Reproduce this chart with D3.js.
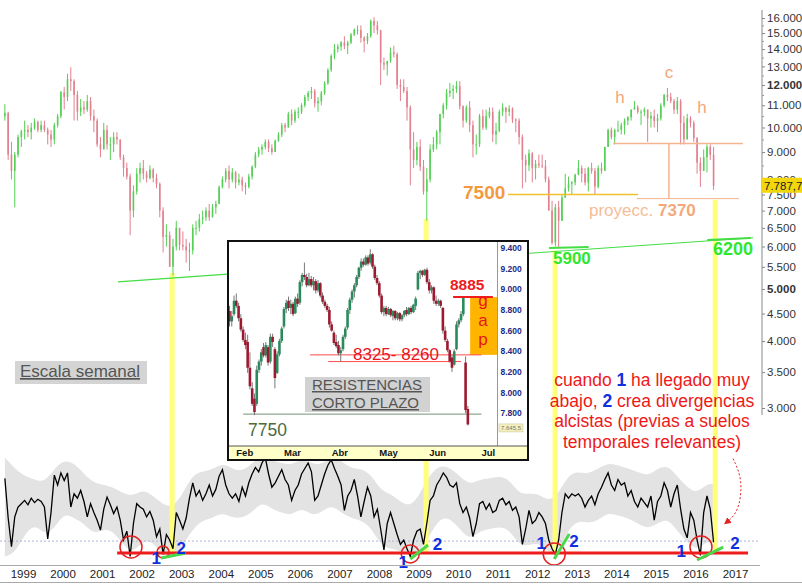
<!DOCTYPE html>
<html>
<head>
<meta charset="utf-8">
<script src="https://cdn.jsdelivr.net/npm/d3@7"></script>
<style>
  body { margin: 0; background: #fff; }
  svg { display: block; font-family: Arial, "Liberation Sans", sans-serif; }
</style>
</head>
<body>
<svg id="chart" width="802" height="584"></svg>
<script>
// ---- weekly IBEX chart (Jul 1998 .. Jun 2016)
const startYear = 1998.5;
const firstOpen = 10500;
const closeM = [
  10650, 8900, 8300, 8900, 9600, 9840,
  9900, 9800, 10000, 10250, 9900, 10100, 9900, 9700, 9500, 10100, 10500, 11640,
  11400, 12300, 12200, 11500, 10700, 10900, 10800, 11200, 10500, 10300, 9300, 9110,
  9900, 9300, 9300, 9600, 9500, 8800, 8400, 8100, 7000, 7600, 8200, 8400,
  8200, 8050, 8350, 8050, 7850, 7000, 6250, 6300, 5500, 6000, 6500, 6040,
  6000, 5900, 5900, 6500, 6500, 6750, 6800, 7000, 6800, 7100, 7200, 7740,
  8000, 8300, 8000, 8250, 7900, 8000, 7800, 7750, 8100, 8450, 8900, 9100,
  9200, 9400, 9150, 9000, 9450, 9700, 10100, 10000, 10600, 10300, 10700, 10700,
  11000, 11400, 11600, 11700, 11100, 11200, 11600, 12100, 12800, 13600, 14000, 14150,
  14400, 14200, 14400, 14900, 15200, 15200, 14700, 14500, 14800, 15800, 15500, 15180,
  13200, 13100, 13300, 13800, 13700, 12000, 11900, 11700, 10900, 9100, 8700, 9200,
  8450, 7600, 8000, 9100, 9300, 9800, 10600, 11000, 11600, 11700, 11800, 11940,
  10950, 10300, 10900, 10100, 9300, 9300, 10500, 10000, 10500, 10700, 9700, 9850,
  10700, 10900, 10700, 10850, 10350, 10300, 9600, 8700, 8500, 8950, 8400, 8560,
  8500, 8470, 8000, 7000, 6100, 7100, 6700, 7400, 7700, 7850, 7900, 8170,
  8400, 8200, 7900, 8400, 8300, 7760, 8400, 8300, 9200, 9900, 9600, 9900,
  9900, 10100, 10300, 10450, 10800, 10900, 10700, 10700, 10800, 10400, 10500, 10280,
  10400, 11000, 11500, 11400, 11200, 10800, 11200, 10200, 9500, 10400, 10200, 9550,
  8600, 8300, 8800, 9200, 8900, 7790
];
const highM = [
  11050, 10700, 9400, 9000, 9700, 9900,
  10300, 10100, 10200, 10400, 10300, 10300, 10300, 10000, 9900, 10200, 10600, 11700,
  11900, 12600, 12950, 12300, 11700, 11300, 11200, 11500, 11400, 10800, 10400, 9600,
  10200, 10100, 9600, 9800, 9800, 9500, 8900, 8600, 8200, 7800, 8400, 8600,
  8700, 8300, 8500, 8400, 8200, 7900, 7100, 6600, 6400, 6200, 6700, 6500,
  6400, 6200, 6100, 6600, 6700, 6900, 7000, 7100, 7200, 7200, 7300, 7800,
  8100, 8400, 8500, 8400, 8300, 8200, 8100, 7900, 8200, 8500, 9000, 9200,
  9300, 9500, 9500, 9300, 9500, 9800, 10200, 10200, 10700, 10800, 10800, 10900,
  11100, 11500, 11700, 11900, 11800, 11400, 11700, 12200, 12900, 13700, 14300, 14300,
  14500, 14800, 14500, 15000, 15300, 15500, 15500, 14800, 15000, 15900, 16050, 15800,
  15200, 13500, 13300, 14100, 14200, 13800, 12300, 12300, 11900, 11000, 9800, 9400,
  9500, 8700, 8400, 9300, 9600, 9900, 10600, 11100, 11800, 12100, 12000, 12200,
  12200, 11000, 11000, 11200, 10300, 9700, 10600, 10800, 10800, 10900, 10900, 10200,
  10800, 11100, 10900, 11000, 10900, 10400, 10400, 9700, 8900, 9100, 9000, 8700,
  8900, 8900, 8700, 8100, 7300, 7200, 7300, 7500, 8200, 8100, 7950, 8200,
  8700, 8500, 8400, 8450, 8600, 8400, 8500, 8600, 9200, 9950, 10000, 9950,
  10300, 10200, 10400, 10500, 10800, 11200, 11000, 10800, 10900, 10800, 10700, 10800,
  10600, 11100, 11550, 11850, 11600, 11300, 11400, 11300, 10500, 10600, 10500, 10300,
  9600, 8800, 9100, 9300, 9300, 9200
];
const lowM = [
  10300, 8700, 8000, 7100, 8800, 9200,
  9500, 9600, 9500, 9900, 9800, 9800, 9800, 9300, 9200, 9300, 10000, 10400,
  10800, 11200, 11700, 10300, 10300, 10500, 10600, 10700, 10300, 9800, 9200, 8800,
  9100, 9100, 8700, 9000, 9300, 8700, 8100, 8000, 6300, 6800, 7500, 7900,
  8000, 7900, 8000, 7900, 7700, 6800, 5850, 6000, 5500, 5300, 5900, 5900,
  5900, 5600, 5400, 5800, 6300, 6400, 6600, 6700, 6700, 6800, 6900, 7200,
  7700, 7900, 7700, 7900, 7700, 7800, 7600, 7500, 7700, 8000, 8400, 8800,
  8900, 9100, 9000, 8900, 9000, 9400, 9600, 9800, 10000, 10100, 10200, 10400,
  10600, 10900, 11200, 11300, 10900, 10700, 11000, 11500, 12000, 12700, 13400, 13800,
  13900, 14000, 13700, 14300, 14800, 14900, 14400, 13800, 14300, 14700, 15000, 14900,
  12000, 12800, 12500, 13200, 13500, 11800, 11200, 11600, 10300, 7800, 8400, 8500,
  8300, 7500, 6700, 7900, 9000, 9100, 9300, 10400, 10800, 11400, 11300, 11600,
  10800, 10000, 10200, 9800, 8800, 8900, 9200, 9900, 9900, 10400, 9400, 9300,
  9800, 10500, 10200, 10500, 10200, 9800, 9300, 7700, 7900, 8300, 7900, 8000,
  8400, 8400, 7900, 7000, 6050, 6000, 5950, 6700, 7400, 7600, 7500, 7800,
  8150, 7900, 7800, 7600, 8200, 7500, 7700, 8200, 8300, 9200, 9500, 9300,
  9800, 9700, 9700, 10100, 10300, 10800, 10600, 10100, 10500, 9400, 10000, 10000,
  9800, 10300, 10900, 11200, 11100, 10600, 10600, 9300, 9300, 9500, 10000, 9400,
  8200, 7750, 8300, 8250, 8700, 7650
];
const lastPrice = 7787.7;

// oscillator (lower panel), monthly, 0..100
const oscM = [
  76, 40, 14, 41, 50, 53,
  56, 52, 58, 54, 57, 55, 50, 21, 45, 79, 70, 81,
  74, 81, 50, 62, 58, 65, 55, 41, 53, 45, 38, 29,
  48, 59, 52, 44, 50, 38, 20, 28, 5, 35, 53, 50,
  48, 41, 46, 38, 23, 30, 7, 25, 20, 12, 45, 38,
  30, 40, 58, 72, 60, 65, 56, 62, 70, 60, 66, 78,
  84, 70, 62, 58, 62, 55, 68, 60, 72, 80, 86, 82,
  90, 95, 80, 68, 72, 78, 84, 75, 70, 56, 65, 70,
  80, 85, 90, 82, 56, 60, 70, 80, 88, 93, 85, 78,
  70, 47, 60, 65, 75, 60, 41, 55, 68, 60, 41, 48,
  30, 11, 35, 45, 35, 25, 16, 20, 12, 5, 20, 28,
  30, 16, 35, 56, 60, 70, 75, 81, 77, 70, 68, 72,
  53, 45, 50, 40, 23, 35, 53, 55, 48, 53, 45, 47,
  56, 58, 52, 55, 47, 50, 41, 16, 30, 47, 35, 38,
  45, 41, 35, 20, 12, 7, 20, 45, 62, 58, 62, 60,
  62, 58, 50, 56, 60, 52, 62, 68, 75, 81, 70, 65,
  75, 70, 72, 60, 65, 55, 50, 58, 54, 50, 60, 38,
  55, 60, 72, 65, 50, 62, 70, 48, 30, 22, 45, 38,
  20, 6, 45, 60, 48, 18
];
// grey envelope, quarterly
const bandHi = [95, 85, 78, 75, 72, 85, 93, 90, 80, 72, 70, 68, 62, 60, 66, 60, 52, 50, 62, 80,
  82, 84, 90, 85, 82, 90, 97, 92, 90, 88, 94, 90, 88, 96, 92, 85, 85, 80, 65, 62,
  55, 50, 62, 80, 88, 86, 78, 70, 75, 76, 78, 75, 62, 62, 62, 55, 62, 80, 82, 80,
  85, 90, 88, 85, 82, 78, 85, 88, 78, 68, 62, 72, 70];
const bandLo = [5, 8, 25, 35, 25, 30, 45, 40, 35, 25, 30, 28, 15, 8, 20, 18, 6, 5, 15, 30,
  38, 40, 45, 40, 40, 45, 55, 48, 45, 42, 50, 42, 45, 52, 45, 40, 38, 32, 15, 12,
  10, 5, 10, 25, 40, 40, 30, 20, 28, 30, 32, 30, 15, 15, 18, 8, 10, 30, 38, 35,
  38, 45, 42, 40, 35, 30, 35, 40, 28, 18, 10, 20, 15];

// inset: daily candles 27 Jan .. 27 Jun 2016 [open, high, low, close]
const insetDays = [
  [8750,8800,8600,8650],[8650,8750,8600,8700],[8720,8900,8700,8850],[8850,8920,8780,8800],
  [8800,8830,8650,8680],[8680,8720,8550,8570],[8570,8600,8450,8470],[8470,8540,8380,8420],
  [8450,8520,8150,8200],[8200,8350,7990,8020],[8000,8060,7830,7850],[7900,7950,7740,7770],
  [7850,8220,7830,8180],[8180,8280,8150,8260],[8260,8380,8220,8350],[8400,8440,8300,8320],
  [8320,8450,8300,8420],[8400,8420,8220,8250],[8260,8530,8240,8500],[8500,8530,8400,8450],
  [8380,8400,8000,8100],[8150,8360,8140,8330],[8330,8480,8310,8460],[8460,8600,8440,8580],
  [8600,8790,8580,8770],[8770,8860,8730,8830],[8850,8890,8750,8780],[8780,8860,8720,8820],
  [8820,8840,8700,8720],[8730,8890,8720,8870],[8870,8920,8790,8820],[8830,9050,8810,9030],
  [9030,9120,8990,9100],[9100,9220,9050,9080],[9080,9110,8980,9000],[9000,9120,8990,9060],
  [9060,9090,8980,9000],[9000,9080,8950,9040],[9040,9060,8920,8950],[8950,9050,8930,9020],
  [9020,9030,8880,8900],[8900,8930,8820,8840],[8840,8860,8780,8800],[8800,8820,8740,8760],
  [8760,8790,8590,8620],[8620,8650,8550,8560],[8540,8560,8420,8440],[8450,8520,8390,8410],
  [8420,8460,8320,8340],[8340,8400,8260,8370],[8380,8520,8360,8500],[8500,8600,8480,8580],
  [8590,8780,8570,8760],[8760,8880,8720,8860],[8860,8960,8830,8940],[8940,9020,8880,9000],
  [9000,9100,8980,9080],[9080,9180,9060,9170],[9170,9260,9140,9230],[9230,9260,9180,9200],
  [9200,9290,9190,9270],[9270,9290,9190,9210],[9220,9350,9200,9300],[9300,9310,9160,9180],
  [9180,9200,9050,9070],[9070,9100,9000,9020],[9020,9040,8880,8900],[8900,8920,8720,8740],
  [8740,8800,8700,8780],[8780,8800,8700,8720],[8720,8790,8710,8770],[8770,8780,8690,8710],
  [8700,8760,8660,8750],[8750,8760,8660,8680],[8680,8740,8660,8730],[8730,8740,8650,8670],
  [8670,8720,8650,8710],[8710,8760,8690,8750],[8760,8790,8700,8720],[8720,8790,8710,8780],
  [8780,8800,8720,8740],[8740,8820,8730,8810],[8800,8890,8760,8870],[8960,9140,8950,9120],
  [9120,9150,9060,9140],[9140,9150,9080,9100],[9100,9160,9090,9150],[9150,9170,9010,9030],
  [9030,9060,8920,8950],[8950,9000,8920,8980],[8980,8990,8820,8850],[8850,8900,8800,8820],
  [8820,8870,8800,8850],[8850,8860,8780,8800],[8780,8790,8530,8560],[8560,8600,8450,8470],
  [8460,8480,8350,8370],[8370,8380,8250,8260],[8300,8330,8160,8200],[8230,8380,8220,8360],
  [8380,8650,8370,8620],[8620,8680,8590,8660],[8660,8750,8640,8720],[8720,8890,8700,8880],
  [8250,8310,7760,7790],[7800,7830,7640,7650]
];
const insetMonths = ["Feb", "Mar", "Abr", "May", "Jun", "Jul"];
const insetMonthIdx = [3, 24, 45, 66, 88, 111];
const insetTicks = [9400, 9200, 9000, 8800, 8600, 8400, 8200, 8000, 7800];
const insetLast = 7645.5;

const priceTicks = [3000, 3500, 4000, 4500, 5000, 5500, 6000, 6500, 7000, 7500, 8000, 9000,
  10000, 11000, 12000, 13000, 14000, 15000, 16000];
const boldTicks = [5000, 12000];
const years = d3.range(1999, 2018);

const es = d3.formatLocale({decimal: ",", thousands: ".", grouping: [3], currency: ["", ""]});
const fmt = es.format(",d");

const svg = d3.select("#chart");
const x = d3.scaleLinear().domain([1999, 2017]).range([23, 735]);
const y = d3.scaleLog().domain([3000, 16000]).range([408, 18]);
const yo = d3.scaleLinear().domain([0, 100]).range([562, 452]);
const monthT = i => startYear + (i + 0.5) / 12;

const GREEN = "#55cf55", RED = "#e2808f";

// ---- oscillator panel (behind)
svg.append("path")
  .datum(bandHi.map((h, q) => ({t: monthT(q * 3), h, l: bandLo[q]})))
  .attr("fill", "#e3e3e3")
  .attr("d", d3.area().curve(d3.curveBasis).x(d => x(d.t)).y0(d => yo(d.l)).y1(d => yo(d.h)));

svg.append("line")
  .attr("x1", 0).attr("x2", 760).attr("y1", yo(19)).attr("y2", yo(19))
  .attr("stroke", "#aab4d6").attr("stroke-dasharray", "2,2");

// yellow verticals from price lows down to the oscillator floor
const yellowMarks = [[2002.77, 5350], [2009.19, 6750], [2012.45, 5900], [2016.5, 7330]];
svg.selectAll("line.yel").data(yellowMarks).join("line")
  .attr("x1", d => x(d[0])).attr("x2", d => x(d[0]))
  .attr("y1", d => y(d[1])).attr("y2", yo(8))
  .attr("stroke", "#ffff7a").attr("stroke-width", 5);

// ---- price bars
const bars = closeM.map((c, i) => ({
  t: monthT(i), o: i ? closeM[i - 1] : firstOpen, h: highM[i], l: lowM[i], c
}));
const gP = svg.append("g");
gP.selectAll("line").data(bars).join("line")
  .attr("x1", d => x(d.t)).attr("x2", d => x(d.t))
  .attr("y1", d => y(d.h)).attr("y2", d => y(d.l))
  .attr("stroke", d => d.c >= d.o ? GREEN : RED).attr("stroke-width", 1);
gP.selectAll("rect").data(bars).join("rect")
  .attr("x", d => x(d.t) - 0.8).attr("width", 1.6)
  .attr("y", d => y(Math.max(d.o, d.c)))
  .attr("height", d => Math.max(1, Math.abs(y(d.o) - y(d.c))))
  .attr("fill", d => d.c >= d.o ? GREEN : RED);

// support line
svg.append("line")
  .attr("x1", x(2001.4)).attr("y1", y(5157)).attr("x2", x(2017.46)).attr("y2", y(6230))
  .attr("stroke", "#44dd44").attr("stroke-width", 1.2);
svg.append("line").attr("x1", x(2012.3)).attr("x2", x(2013.3)).attr("y1", y(5960)).attr("y2", y(5990))
  .attr("stroke", "#44dd44").attr("stroke-width", 2);
svg.append("line").attr("x1", x(2016.3)).attr("x2", x(2017.4)).attr("y1", y(6170)).attr("y2", y(6220))
  .attr("stroke", "#44dd44").attr("stroke-width", 2);

// 7500 line and H-C-H pattern
svg.append("line").attr("x1", x(2011.26)).attr("x2", x(2014.55)).attr("y1", y(7500)).attr("y2", y(7500))
  .attr("stroke", "#f2c12e").attr("stroke-width", 1.5);
const peach = "#f4b48e";
svg.append("line").attr("x1", x(2013.92)).attr("x2", x(2017.2)).attr("y1", y(9340)).attr("y2", y(9340))
  .attr("stroke", peach).attr("stroke-width", 1.5);
svg.append("line").attr("x1", x(2015.33)).attr("x2", x(2015.33)).attr("y1", y(9340)).attr("y2", y(7370))
  .attr("stroke", peach).attr("stroke-width", 1.5);
svg.append("line").attr("x1", x(2014.52)).attr("x2", x(2017.1)).attr("y1", y(7370)).attr("y2", y(7370))
  .attr("stroke", peach).attr("stroke-width", 1);

const txt = (t, xx, yy, size, fill, weight, anchor) => svg.append("text")
  .attr("x", xx).attr("y", yy).attr("font-size", size).attr("fill", fill)
  .attr("font-weight", weight || "normal").attr("text-anchor", anchor || "start").text(t);

txt("7500", 463, 199, 19, "#f39a40", "bold");
const pr = svg.append("text").attr("x", 589).attr("y", 216).attr("font-size", 17).attr("fill", "#f5bd98");
pr.append("tspan").text("proyecc. ");
pr.append("tspan").attr("font-weight", "bold").attr("fill", "#f2a97c").text("7370");
txt("h", 620, 103, 17, "#f2a77a", "normal", "middle");
txt("c", 669, 78, 17, "#f2a77a", "normal", "middle");
txt("h", 702, 113, 17, "#f2a77a", "normal", "middle");
txt("5900", 553, 264, 17, "#2ee82e", "bold");
txt("6200", 713, 255, 18, "#2ee82e", "bold");

// ---- right price axis
svg.append("line").attr("x1", 762).attr("x2", 762).attr("y1", 10).attr("y2", 415)
  .attr("stroke", "#c4c4c4").attr("stroke-width", 2);
const gR = svg.append("g").attr("transform", "translate(762,0)")
  .call(d3.axisRight(y).tickValues(priceTicks).tickFormat(fmt).tickSize(3).tickPadding(2));
gR.select(".domain").remove();
gR.selectAll("line").attr("stroke", "#888");
gR.selectAll("text").attr("font-size", 11.5).attr("fill", "#333")
  .attr("font-family", "Arial, 'Liberation Sans', sans-serif")
  .attr("font-weight", d => boldTicks.includes(d) ? "bold" : "normal");
svg.append("g").attr("transform", "translate(762,0)")
  .call(d3.axisRight(y).tickValues([8500, 9500, 10500, 11500, 12500, 13500, 14500, 15500]).tickFormat("").tickSize(2))
  .call(g => g.select(".domain").remove())
  .selectAll("line").attr("stroke", "#999");
svg.append("rect").attr("x", 762).attr("y", y(lastPrice) - 8).attr("width", 42).attr("height", 15)
  .attr("fill", "#f2d70c");
txt(es.format(",.1f")(lastPrice), 764, y(lastPrice) + 4, 11.5, "#222");

// ---- oscillator line and marks
svg.append("path").datum(oscM)
  .attr("fill", "none").attr("stroke", "#000").attr("stroke-width", 1.3)
  .attr("d", d3.line().x((d, i) => x(monthT(i))).y(d => yo(d)));

svg.append("line").attr("x1", x(2001.38)).attr("x2", x(2017.33)).attr("y1", yo(8.2)).attr("y2", yo(8.2))
  .attr("stroke", "#ee1c1c").attr("stroke-width", 3);

const circles = [[2001.73, 13.6, 11], [2002.54, 9, 6], [2008.79, 7.3, 9], [2012.43, 7.3, 11], [2016.14, 13.6, 11]];
svg.selectAll("circle.c").data(circles).join("circle")
  .attr("cx", d => x(d[0])).attr("cy", d => yo(d[1])).attr("r", d => d[2])
  .attr("fill", "none").attr("stroke", "#e52020").attr("stroke-width", 1.5);

const divLines = [[2002.49, 3.6, 2003.12, 8.2], [2008.79, 2.7, 2009.24, 15.5],
  [2012.43, 2.7, 2012.81, 25.5], [2016.04, 1.8, 2016.70, 13.6]];
svg.selectAll("line.dv").data(divLines).join("line")
  .attr("x1", d => x(d[0])).attr("y1", d => yo(d[1])).attr("x2", d => x(d[2])).attr("y2", d => yo(d[3]))
  .attr("stroke", "#4ad84a").attr("stroke-width", 3);

const numLabels = [["1", 2002.37, 4], ["2", 2003.0, 13], ["1", 2008.61, 0], ["2", 2009.48, 16],
  ["1", 2012.1, 17], ["2", 2012.93, 19], ["1", 2015.64, 10], ["2", 2017.0, 17]];
svg.selectAll("text.num").data(numLabels).join("text")
  .attr("x", d => x(d[1])).attr("y", d => yo(d[2]) + 6).attr("text-anchor", "middle")
  .attr("font-size", 17).attr("font-weight", "bold").attr("fill", "#1030e0").text(d => d[0]);

// year axis
svg.append("line").attr("x1", 0).attr("x2", 760).attr("y1", 565.5).attr("y2", 565.5).attr("stroke", "#aaa");
svg.append("line").attr("x1", 0).attr("x2", 802).attr("y1", 582.5).attr("y2", 582.5).attr("stroke", "#aaa");
const gB = svg.append("g").attr("transform", "translate(0,566)")
  .call(d3.axisBottom(x).tickValues(years).tickFormat(d3.format("d")).tickSize(0).tickPadding(4));
gB.select(".domain").remove();
gB.selectAll("text").attr("font-size", 11.5).attr("fill", "#222")
  .attr("font-family", "Arial, 'Liberation Sans', sans-serif");

// red dotted arrow towards the last oscillator dip
svg.append("defs").append("marker").attr("id", "ah").attr("viewBox", "0 0 10 10")
  .attr("refX", 8).attr("refY", 5).attr("markerWidth", 7).attr("markerHeight", 7).attr("orient", "auto")
  .append("path").attr("d", "M0,0 L10,5 L0,10 z").attr("fill", "#e52020");
svg.append("path")
  .attr("d", d3.line().curve(d3.curveBasis)([[x(2016.95), yo(94)], [x(2017.2), yo(75)], [x(2017.1), yo(45)], [x(2016.75), yo(35)]]))
  .attr("fill", "none").attr("stroke", "#e52020").attr("stroke-width", 1).attr("stroke-dasharray", "2,2")
  .attr("marker-end", "url(#ah)");

// ---- "Escala semanal"
svg.append("rect").attr("x", 15).attr("y", 361).attr("width", 132).attr("height", 23).attr("fill", "#d4d4d4");
txt("Escala semanal", 20, 377, 17, "#555").attr("text-decoration", "underline");

// ---- red explanatory text
const note = [
  [["cuando ", 0], ["1", 1], [" ha llegado muy", 0]],
  [["abajo, ", 0], ["2", 2], [" crea divergencias", 0]],
  [["alcistas (previas a suelos", 0]],
  [["temporales relevantes)", 0]]
];
note.forEach((line, k) => {
  const t = svg.append("text").attr("x", 652).attr("y", 386 + k * 20.5).attr("text-anchor", "middle")
    .attr("font-size", 17.5).attr("fill", "#ee1818");
  line.forEach(p => t.append("tspan").text(p[0])
    .attr("fill", p[1] ? "#1030e0" : null).attr("font-weight", p[1] ? "bold" : null));
});

// ---- inset: daily chart
const ix = d3.scaleLinear().domain([0, 107]).range([229.5, 472.4]);
const iy = d3.scaleLinear().domain([7800, 9400]).range([409, 244]);
const gi = svg.append("g");
const defs = gi.append("defs");
gi.append("rect").attr("x", 228).attr("y", 241).attr("width", 300).attr("height", 219)
  .attr("fill", "#fff").attr("stroke", "#111").attr("stroke-width", 2);
defs.append("clipPath").attr("id", "ic")
  .append("rect").attr("x", 229).attr("y", 242).attr("width", 268).attr("height", 204);
const gc = gi.append("g").attr("clip-path", "url(#ic)");

// 7750 support and resistances (behind candles)
gc.append("line").attr("x1", ix(6)).attr("x2", ix(111)).attr("y1", iy(7750)).attr("y2", iy(7750))
  .attr("stroke", "#8fa88f").attr("stroke-width", 1.2);
gc.append("rect").attr("x", ix(106)).attr("y", iy(8885)).attr("width", ix(118) - ix(106))
  .attr("height", iy(8325) - iy(8885)).attr("fill", "#ffb400");
gc.append("line").attr("x1", ix(35.5)).attr("x2", ix(111)).attr("y1", iy(8325)).attr("y2", iy(8325))
  .attr("stroke", "#ff4a4a").attr("stroke-width", 1);
gc.append("line").attr("x1", ix(43.5)).attr("x2", ix(102)).attr("y1", iy(8260)).attr("y2", iy(8260))
  .attr("stroke", "#ff4a4a").attr("stroke-width", 1);

gc.selectAll("line.wk").data(insetDays).join("line")
  .attr("x1", (d, i) => ix(i)).attr("x2", (d, i) => ix(i))
  .attr("y1", d => iy(d[1])).attr("y2", d => iy(d[2]))
  .attr("stroke", "#777").attr("stroke-width", 1);
gc.selectAll("rect.bd").data(insetDays).join("rect")
  .attr("x", (d, i) => ix(i) - 1.3).attr("width", 2.6)
  .attr("y", d => iy(Math.max(d[0], d[3])))
  .attr("height", d => Math.max(1, Math.abs(iy(d[0]) - iy(d[3]))))
  .attr("fill", d => d[3] >= d[0] ? "#2a8a5c" : "#9c1a30");
gc.append("line").attr("x1", ix(98.5)).attr("x2", ix(116)).attr("y1", iy(8885)).attr("y2", iy(8885))
  .attr("stroke", "#ee1c1c").attr("stroke-width", 2);

const itxt = (t, xx, yy, size, fill, weight, anchor) => gi.append("text")
  .attr("x", xx).attr("y", yy).attr("font-size", size).attr("fill", fill)
  .attr("font-weight", weight || "normal").attr("text-anchor", anchor || "start").text(t);
itxt("8885", 450, 290, 15.5, "#ee1c1c", "bold");
[["g", 306], ["a", 326], ["p", 345]].forEach(d => itxt(d[0], 483, d[1], 17, "#e8141e", "normal", "middle"));
itxt("8325- 8260", 353, 360, 17, "#e8141e");
itxt("7750", 248, 436, 17.5, "#4e6b3c");
gi.append("rect").attr("x", 305).attr("y", 377).attr("width", 125).attr("height", 35).attr("fill", "#d2d2d2");
itxt("RESISTENCIAS", 312, 390, 15, "#555").attr("text-decoration", "underline");
itxt("CORTO PLAZO", 312, 408, 15, "#555").attr("text-decoration", "underline");

// inset axes
gi.append("line").attr("x1", 497.5).attr("x2", 497.5).attr("y1", 242).attr("y2", 446).attr("stroke", "#999");
const giR = gi.append("g").attr("transform", "translate(497.5,4)")
  .call(d3.axisRight(iy).tickValues(insetTicks).tickFormat(es.format(",d")).tickSize(0).tickPadding(3));
giR.select(".domain").remove();
giR.selectAll("text").attr("font-size", 8.5).attr("font-weight", "bold").attr("fill", "#1c2a84")
  .attr("font-family", "Arial, 'Liberation Sans', sans-serif");
gi.append("rect").attr("x", 499).attr("y", iy(insetLast) - 1).attr("width", 24).attr("height", 8)
  .attr("fill", "#f4efc0").attr("stroke", "#c8c090").attr("stroke-width", 0.5);
itxt(es.format(",.1f")(insetLast), 501, iy(insetLast) + 5.5, 6, "#776");
gi.append("rect").attr("x", 229).attr("y", 446).attr("width", 298).attr("height", 13).attr("fill", "#ffffc8");
gi.append("line").attr("x1", 229).attr("x2", 527).attr("y1", 446).attr("y2", 446).attr("stroke", "#555");
insetMonths.forEach((m, k) => itxt(m, ix(insetMonthIdx[k]), 456, 9.5, "#111", "bold"));
gi.append("rect").attr("x", 228).attr("y", 241).attr("width", 300).attr("height", 219)
  .attr("fill", "none").attr("stroke", "#111").attr("stroke-width", 2);
</script>
</body>
</html>
